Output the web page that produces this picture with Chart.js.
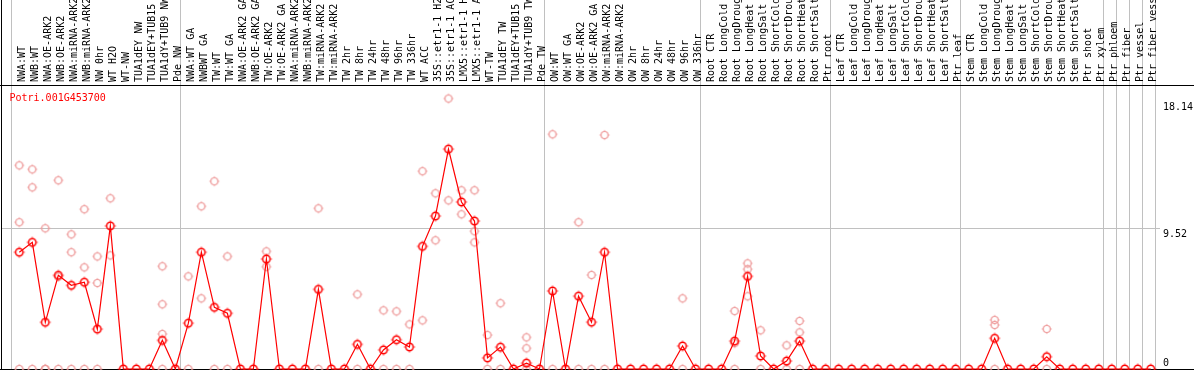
<!DOCTYPE html>
<html><head><meta charset="utf-8">
<script src="https://cdn.jsdelivr.net/npm/chart.js@4/dist/chart.umd.min.js"></script>
<style>html,body{margin:0;padding:0;background:#fff;overflow:hidden}#wrap{width:1194px;height:370px;position:relative}</style>
</head><body><div id="wrap"><canvas id="c" width="1194" height="370"></canvas></div>
<script>
const geneName = "Potri.001G453700";

const categories = [
  "NWA:WT","NWB:WT","NWA:OE-ARK2","NWB:OE-ARK2","NWA:miRNA-ARK2","NWB:miRNA-ARK2","NW 0hr","WT H2O","WT-NW","TUA1dEY NW","TUA1dEY+TUB15","TUA1dY+TUB9 NW","Pde NW",
  "NWA:WT GA","NWBWT GA","TW:WT","TW:WT GA","NWA:OE-ARK2 GA","NWB:OE-ARK2 GA","TW:OE-ARK2","TW:OE-ARK2 GA","NWA:miRNA-ARK2","NWB:miRNA-ARK2","TW:miRNA-ARK2","TW:miRNA-ARK2","TW 2hr","TW 8hr","TW 24hr","TW 48hr","TW 96hr","TW 336hr","WT ACC","35S::etr1-1 H2","35S::etr1-1 AC","LMX5::etr1-1 H","LMX5::etr1-1 A","WT-TW","TUA1dEY TW","TUA1dEY+TUB15","TUA1dY+TUB9 TW","Pde TW",
  "OW:WT","OW:WT GA","OW:OE-ARK2","OW:OE-ARK2 GA","OW:miRNA-ARK2","OW:miRNA-ARK2","OW 2hr","OW 8hr","OW 24hr","OW 48hr","OW 96hr","OW 336hr",
  "Root CTR","Root LongCold","Root LongDroug","Root LongHeat","Root LongSalt","Root ShortCold","Root ShortDrou","Root ShortHeat","Root ShortSalt","Ptr root",
  "Leaf CTR","Leaf LongCold","Leaf LongDroug","Leaf LongHeat","Leaf LongSalt","Leaf ShortCold","Leaf ShortDrou","Leaf ShortHeat","Leaf ShortSalt","Ptr leaf",
  "Stem CTR","Stem LongCold","Stem LongDroug","Stem LongHeat","Stem LongSalt","Stem ShortCold","Stem ShortDrou","Stem ShortHeat","Stem ShortSalt","Ptr shoot","Ptr xylem",
  "Ptr phloem","Ptr fiber","Ptr vessel","Ptr fiber vess"
];

// index where each group of categories starts (last entry = end)
const groupStarts = [0, 13, 41, 53, 63, 73, 84, 85, 86, 87, 88];

// mean expression (red line)
const meanValues = [
  7.90, 8.57, 3.16, 6.34, 5.66, 5.87, 2.70, 9.68, 0, 0,
  0, 1.94, 0, 3.10, 7.90, 4.17, 3.77, 0, 0, 7.44,
  0, 0, 0, 5.39, 0, 0, 1.67, 0, 1.29, 1.98,
  1.49, 8.30, 10.35, 14.88, 11.30, 10.01, 0.75, 1.48, 0, 0.40,
  0, 5.28, 0, 4.93, 3.17, 7.90, 0, 0, 0, 0,
  0, 1.56, 0, 0, 0, 1.89, 6.27, 0.88, 0, 0.54,
  1.89, 0, 0, 0, 0, 0, 0, 0, 0, 0,
  0, 0, 0, 0, 0, 2.08, 0, 0, 0, 0.83,
  0, 0, 0, 0, 0, 0, 0, 0
];

// replicate values (pale circles)
const rep1 = [
  13.78, 13.51, 9.52, 12.77, 9.11, 10.81, 7.62, 11.55, null, null,
  null, 6.95, null, 6.27, 11.01, 12.70, 7.62, null, null, 7.96,
  null, null, null, 10.87, null, null, 5.05, null, 3.97, 3.90,
  3.02, 13.38, 11.89, 18.30, 12.09, 12.09, 2.30, 4.45, null, 2.14,
  null, 15.88, null, 9.93, 6.36, 15.83, null, null, null, null,
  null, 4.78, null, null, null, 3.92, 7.15, 2.62, null, 1.60,
  3.25, null, null, null, null, null, null, null, null, null,
  null, null, null, null, null, 3.32, null, null, null, 2.71,
  null, null, null, null, null, null, null, null
];
const rep2 = [
  9.93, 12.29, 0, 6.25, 7.90, 6.88, 5.82, 7.69, null, null,
  null, 4.38, null, 0, 4.78, 0, 0, null, null, 6.92,
  null, null, null, 0, null, null, 0, null, 0, 0,
  0, 3.29, 8.71, 11.41, 10.47, 9.32, 0, 0, null, 1.40,
  null, 0, null, 0, 0, 0, null, null, null, null,
  null, 0, null, null, null, 1.75, 6.75, 0, null, 0,
  2.48, null, null, null, null, null, null, null, null, null,
  null, null, null, null, null, 2.98, null, null, null, 0,
  null, null, null, null, null, null, null, null
];
const rep3 = [
  0, 0, 0, 0, 0, 0, 0, null, null, null,
  null, 2.37, null, null, null, null, null, null, null, null,
  null, null, null, null, null, null, null, null, null, null,
  null, null, null, null, null, 8.57, null, null, null, 0,
  null, null, null, null, null, null, null, null, null, null,
  null, null, null, null, null, 0, 4.92, null, null, null,
  0, null, null, null, null, null, null, null, null, null,
  null, null, null, null, null, 0, null, null, null, null,
  null, null, null, null, null, null, null, null
];
const rep4 = [
  null, null, null, null, null, null, null, null, null, null,
  null, 0, null, null, null, null, null, null, null, null,
  null, null, null, null, null, null, null, null, null, null,
  null, null, null, null, null, null, null, null, null, null,
  null, null, null, null, null, null, null, null, null, null,
  null, null, null, null, null, null, null, null, null, null,
  null, null, null, null, null, null, null, null, null, null,
  null, null, null, null, null, null, null, null, null, null,
  null, null, null, null, null, null, null, null
];

const yTickValues = [18.14, 9.52, 0];

const MONO = '10px "DejaVu Sans Mono", "Liberation Mono", monospace';

function makeMarker(color, lw, r) {
  const c = document.createElement('canvas');
  c.width = 14; c.height = 14;
  const g = c.getContext('2d');
  g.strokeStyle = color;
  g.lineWidth = lw;
  g.beginPath(); g.arc(7, 7, r, 0, Math.PI * 2); g.stroke();
  g.fillStyle = color;
  // tiny spikes at N, S, E, W
  g.fillRect(6.5, 7 - r - lw / 2 - 1, 1, 1);
  g.fillRect(6.5, 7 + r + lw / 2, 1, 1);
  g.fillRect(7 - r - lw / 2 - 1, 6.5, 1, 1);
  g.fillRect(7 + r + lw / 2, 6.5, 1, 1);
  return c;
}
const mainMarker = makeMarker('#ff0000', 1.5, 3.7);
const paleMarker = makeMarker('#ee9a9a', 1.2, 3.5);

const toPts = arr => arr.map((v, i) => (v === null ? null : { x: i, y: v })).filter(p => p);

const repDatasets = [rep1, rep2, rep3, rep4].map((r, k) => ({
  label: 'rep' + (k + 1),
  data: toPts(r),
  showLine: false,
  pointStyle: paleMarker,
  pointRadius: 4,
  order: 2,
  clip: false
}));

const decor = {
  id: 'decor',
  beforeDatasetsDraw(chart) {
    const ctx = chart.ctx;
    const xs = chart.scales.x, ys = chart.scales.y;
    ctx.save();
    // group separators
    ctx.fillStyle = '#c0c0c0';
    groupStarts.forEach(k => {
      const x = Math.round(xs.getPixelForValue(k - 0.65));
      ctx.fillRect(x, 0, 1, 370);
    });
    // horizontal grid at middle tick
    const yMid = Math.round(ys.getPixelForValue(yTickValues[1]));
    ctx.fillRect(2, yMid, 1158, 1);
    // black frame lines
    ctx.fillStyle = '#000';
    ctx.fillRect(1, 0, 1, 370);
    ctx.fillRect(0, 85, 1194, 1);
    ctx.fillRect(0, Math.round(ys.getPixelForValue(0)), 1194, 1);
    // category labels
    ctx.font = MONO;
    ctx.fillStyle = '#000';
    ctx.textAlign = 'left';
    ctx.textBaseline = 'alphabetic';
    categories.forEach((lab, i) => {
      const x = xs.getPixelForValue(i);
      ctx.save();
      ctx.translate(Math.round(x + 5.5), 82);
      ctx.rotate(-Math.PI / 2);
      ctx.fillText(lab, 0, 0);
      ctx.restore();
    });
    // y tick labels
    yTickValues.forEach(v => {
      const y = ys.getPixelForValue(v);
      const by = v === 0 ? y - 3.5 : y + 9;
      ctx.fillText(String(v), 1163, by);
    });
    // gene name
    ctx.fillStyle = '#ff0000';
    ctx.fillText(geneName, 9.5, 100.5);
    ctx.restore();
  }
};

new Chart(document.getElementById('c'), {
  type: 'line',
  data: {
    datasets: [
      {
        label: geneName,
        data: toPts(meanValues),
        borderColor: '#ff0000',
        borderWidth: 1.2,
        tension: 0,
        pointStyle: mainMarker,
        pointRadius: 4,
        order: 0,
        clip: false
      },
      ...repDatasets
    ]
  },
  options: {
    responsive: false,
    devicePixelRatio: 1,
    animation: false,
    events: [],
    layout: { autoPadding: false, padding: { left: 10, right: 38, top: 85, bottom: 1 } },
    plugins: { legend: { display: false }, tooltip: { enabled: false } },
    scales: {
      x: { type: 'linear', display: false, min: -0.715, max: 87.405 },
      y: { type: 'linear', display: false, min: 0, max: 19.215 }
    }
  },
  plugins: [decor]
});
</script>
</body></html>
